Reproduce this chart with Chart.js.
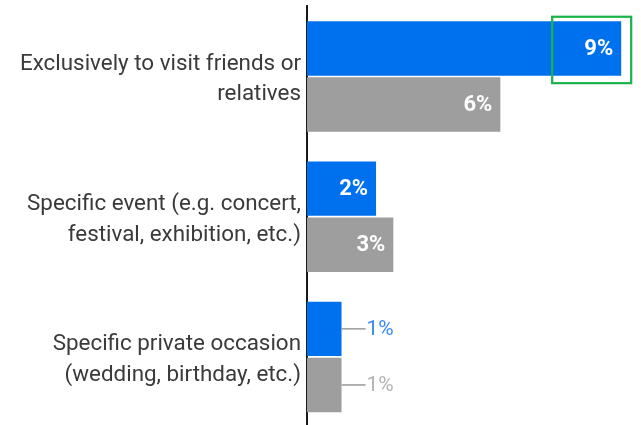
<!DOCTYPE html>
<html>
<head>
<meta charset="utf-8">
<script src="https://cdn.jsdelivr.net/npm/chart.js@4"></script>
<style>
  html, body { margin: 0; padding: 0; background: #fff; overflow: hidden; }
  #wrap { position: relative; width: 641px; height: 427px; }
</style>
</head>
<body>
<div id="wrap"><canvas id="chart"></canvas></div>
<script>
// Reasons for the trip, share of respondents (%)
const categories = [
  ['Exclusively to visit friends or', 'relatives'],
  ['Specific event (e.g. concert,', 'festival, exhibition, etc.)'],
  ['Specific private occasion', '(wedding, birthday, etc.)']
];
const seriesBlue = [9.1, 2.0, 1.0];
const seriesGray = [5.6, 2.5, 1.0];

const BLUE = '#0071ee';
const GRAY = '#9e9e9e';

// Value labels: inside the bar end when there is room, otherwise
// outside with a short leader line.
const valueLabels = {
  id: 'valueLabels',
  afterDatasetsDraw(chart) {
    const ctx = chart.ctx;
    const outsideColors = ['#3a8af5', '#b3b3b3'];
    chart.data.datasets.forEach((ds, di) => {
      const meta = chart.getDatasetMeta(di);
      meta.data.forEach((bar, i) => {
        const text = Math.round(ds.data[i]) + '%';
        const width = bar.x - bar.base;
        ctx.save();
        ctx.textBaseline = 'middle';
        if (width > 50) {
          ctx.font = 'bold 22px Roboto';
          ctx.fillStyle = '#ffffff';
          ctx.textAlign = 'right';
          ctx.fillText(text, bar.x - 8, bar.y + 1);
        } else {
          ctx.strokeStyle = '#9a9a9a';
          ctx.lineWidth = 1.5;
          ctx.beginPath();
          ctx.moveTo(bar.x, bar.y);
          ctx.lineTo(bar.x + 24, bar.y);
          ctx.stroke();
          ctx.font = '21px Roboto';
          ctx.fillStyle = outsideColors[di];
          ctx.textAlign = 'left';
          ctx.fillText(text, bar.x + 25, bar.y + 1);
        }
        ctx.restore();
      });
    });
  }
};

// Highlight frame around the end of the largest bar
const highlight = {
  id: 'highlight',
  afterDatasetsDraw(chart) {
    const bar = chart.getDatasetMeta(0).data[0];
    const ctx = chart.ctx;
    const top = bar.y - bar.height / 2;
    const bottom = bar.y + bar.height / 2;
    ctx.save();
    ctx.strokeStyle = '#19b34c';
    ctx.lineWidth = 2.2;
    ctx.strokeRect(bar.x - 69, top - 4.5, 79, bottom - top + 12);
    ctx.restore();
  }
};

new Chart(document.getElementById('chart'), {
  type: 'bar',
  data: {
    labels: categories,
    datasets: [
      { data: seriesBlue, backgroundColor: BLUE, categoryPercentage: 0.8, barPercentage: 0.97 },
      { data: seriesGray, backgroundColor: GRAY, categoryPercentage: 0.8, barPercentage: 0.97 }
    ]
  },
  options: {
    indexAxis: 'y',
    responsive: true,
    maintainAspectRatio: false,
    animation: false,
    layout: { padding: { top: 6.4, right: 6, bottom: 0, left: 0 } },
    plugins: { legend: { display: false }, tooltip: { enabled: false } },
    scales: {
      x: { display: false, min: 0, max: 9.5 },
      y: {
        afterFit(scale) {
          scale.width = 307;
          scale.paddingTop = 0;
          scale.paddingBottom = 0;
        },
        grid: { display: false, drawTicks: false },
        border: { display: true, color: '#1a1a1a', width: 2 },
        ticks: {
          padding: 6,
          labelOffset: 3,
          color: '#3a3a3a',
          font: { family: 'Roboto', size: 22.4, lineHeight: 1.36 }
        }
      }
    }
  },
  plugins: [valueLabels, highlight]
});
</script>
</body>
</html>
